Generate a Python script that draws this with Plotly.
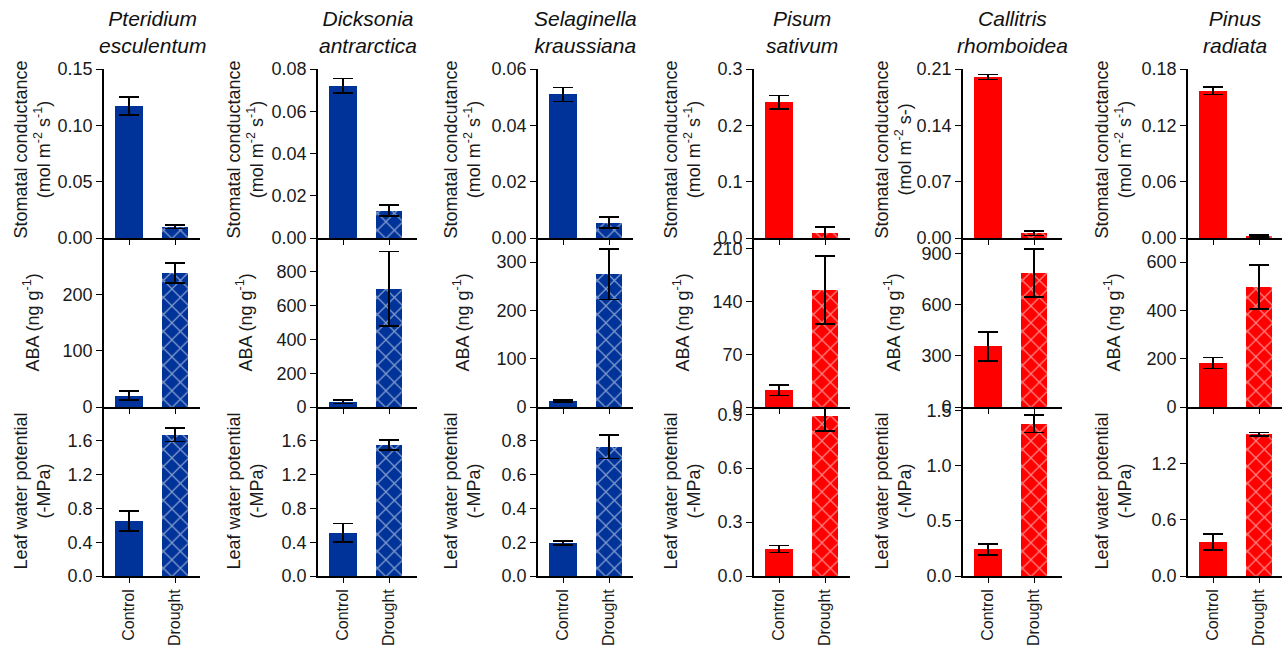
import plotly.graph_objects as go

species = ["Pteridium<br>esculentum", "Dicksonia<br>antrarctica", "Selaginella<br>kraussiana",
           "Pisum<br>sativum", "Callitris<br>rhomboidea", "Pinus<br>radiata"]
categories = ["Control", "Drought"]
colors = ["#003399", "#003399", "#003399", "#FF0000", "#FF0000", "#FF0000"]

gs_ctrl = [0.117, 0.072, 0.051, 0.241, 0.200, 0.157]
gs_ctrl_err = [0.008, 0.0035, 0.0025, 0.012, 0.003, 0.004]
gs_dr = [0.010, 0.013, 0.0055, 0.009, 0.006, 0.002]
gs_dr_err = [0.0015, 0.0025, 0.002, 0.011, 0.003, 0.001]

aba_ctrl = [20, 30, 12, 22, 355, 182]
aba_ctrl_err = [8, 10, 2, 7, 85, 23]
aba_dr = [238, 700, 275, 155, 785, 497]
aba_dr_err = [18, 220, 52, 45, 140, 90]

lwp_ctrl = [0.65, 0.51, 0.195, 0.15, 0.24, 0.36]
lwp_ctrl_err = [0.12, 0.11, 0.013, 0.02, 0.05, 0.085]
lwp_dr = [1.67, 1.55, 0.765, 0.89, 1.38, 1.51]
lwp_dr_err = [0.08, 0.06, 0.07, 0.085, 0.08, 0.02]

gs_titles = ["Stomatal conductance<br>(mol m<sup>-2</sup> s<sup>-1</sup>)",
             "Stomatal conductance<br>(mol m<sup>-2</sup> s<sup>-1</sup>)",
             "Stomatal condcutance<br>(mol m<sup>-2</sup> s<sup>-1</sup>)",
             "Stomatal conductance<br>(mol m<sup>-2</sup> s<sup>-1</sup>)",
             "Stomatal conductance<br>(mol m<sup>-2</sup> s-)",
             "Stomatal conductance<br>(mol m<sup>-2</sup> s<sup>-1</sup>)"]
aba_title = "ABA (ng g<sup>-1</sup>)"
lwp_title = "Leaf water potential<br>(-MPa)"

gs_ticks = [[0, 0.05, 0.10, 0.15], [0, 0.02, 0.04, 0.06, 0.08], [0, 0.02, 0.04, 0.06],
            [0, 0.1, 0.2, 0.3], [0, 0.07, 0.14, 0.21], [0, 0.06, 0.12, 0.18]]
gs_fmt = [".2f", ".2f", ".2f", ".1f", ".2f", ".2f"]
gs_max = [0.15, 0.08, 0.06, 0.3, 0.21, 0.18]
aba_ticks = [[0, 100, 200], [0, 200, 400, 600, 800], [0, 100, 200, 300],
             [0, 70, 140, 210], [0, 300, 600, 900], [0, 200, 400, 600]]
aba_max = [300, 1000, 350, 224, 990, 700]
lwp_ticks = [[0, 0.4, 0.8, 1.2, 1.6], [0, 0.4, 0.8, 1.2, 1.6], [0, 0.2, 0.4, 0.6, 0.8],
             [0, 0.3, 0.6, 0.9], [0, 0.5, 1.0, 1.5], [0, 0.6, 1.2]]
lwp_max = [2.0, 2.0, 1.0, 0.94, 1.53, 1.8]

# layout geometry (pixels)
W, H = 1282, 648
col_x0 = [104, 318, 538, 754, 963, 1188]
col_x1 = [200, 417, 633, 850, 1062, 1282]
title_x = [32, 245, 462, 682, 893, 1113]
row_y = [(69, 238), (238, 407), (407, 576)]
title_dy = [-4, 0, 0]

font_family = "Arial, Liberation Sans, sans-serif"
txt_color = "#1a1a1a"
fig = go.Figure()
layout = dict(width=W, height=H, margin=dict(l=0, r=0, t=0, b=0, autoexpand=False),
              paper_bgcolor="white", plot_bgcolor="white", showlegend=False,
              font=dict(family=font_family, size=18, color=txt_color), bargap=0)

annotations = []
idx = 0
for c in range(6):
    rows = [
        (gs_ctrl, gs_ctrl_err, gs_dr, gs_dr_err, gs_ticks[c], gs_fmt[c], gs_max[c], gs_titles[c]),
        (aba_ctrl, aba_ctrl_err, aba_dr, aba_dr_err, aba_ticks[c], ",.0f", aba_max[c], aba_title),
        (lwp_ctrl, lwp_ctrl_err, lwp_dr, lwp_dr_err, lwp_ticks[c], ".1f", lwp_max[c], lwp_title),
    ]
    for r, (vc, ec, vd, ed, ticks, fmt, ymax, ytitle) in enumerate(rows):
        idx += 1
        xa = "x" if idx == 1 else f"x{idx}"
        ya = "y" if idx == 1 else f"y{idx}"
        col = colors[c]
        fig.add_trace(go.Bar(
            x=[categories[0]], y=[vc[c]], xaxis=xa, yaxis=ya, width=0.62,
            marker=dict(color=col, line=dict(width=0)),
            error_y=dict(type="data", array=[ec[c]], color="black", thickness=1.6, width=10),
        ))
        fig.add_trace(go.Bar(
            x=[categories[1]], y=[vd[c]], xaxis=xa, yaxis=ya, width=0.56,
            marker=dict(color=col, line=dict(width=0),
                        pattern=dict(shape="x", fgcolor="white", bgcolor=col, size=12,
                                     solidity=0.2, fillmode="overlay")),
            error_y=dict(type="data", array=[ed[c]], color="black", thickness=1.6, width=10),
        ))
        x0, x1 = col_x0[c], col_x1[c]
        y0, y1 = row_y[r]
        spacing = 46.0
        xr0 = -25.0 / spacing
        xr1 = xr0 + (x1 - x0) / spacing
        xkey = "xaxis" if idx == 1 else f"xaxis{idx}"
        ykey = "yaxis" if idx == 1 else f"yaxis{idx}"
        layout[xkey] = dict(
            domain=[x0 / W, x1 / W], anchor=ya, type="category",
            categoryorder="array", categoryarray=categories,
            range=[xr0, xr1], showline=True, linecolor="black", linewidth=1.6,
            ticks="outside", ticklen=5, tickwidth=1.4, tickcolor="black",
            showgrid=False, zeroline=False, fixedrange=True, automargin=False,
            showticklabels=(r == 2), tickangle=-90,
            tickfont=dict(size=16, family=font_family, color=txt_color),
        )
        layout[ykey] = dict(
            domain=[1 - y1 / H, 1 - y0 / H], anchor=xa, range=[0, ymax],
            tickvals=ticks, tickformat=fmt, showline=True, linecolor="black", linewidth=1.6,
            ticks="outside", ticklen=6, tickwidth=1.4, tickcolor="black",
            showgrid=False, zeroline=False, fixedrange=True, automargin=False,
            tickfont=dict(size=18, family=font_family, color=txt_color),
        )
        annotations.append(dict(
            text=ytitle, textangle=-90,
            x=title_x[c] / W, y=1 - ((y0 + y1) / 2 + title_dy[r]) / H,
            xref="paper", yref="paper", xanchor="center", yanchor="middle",
            showarrow=False, font=dict(size=18, family=font_family, color=txt_color),
        ))
    annotations.append(dict(
        text="<i>" + species[c].replace("<br>", "</i><br><i>") + "</i>",
        x=(col_x0[c] + col_x1[c]) / 2 / W, y=1 - 59 / H, xref="paper", yref="paper",
        xanchor="center", yanchor="bottom", showarrow=False,
        font=dict(size=21, family=font_family, color="#111"),
    ))

layout["annotations"] = annotations
fig.update_layout(**layout)
fig.write_html("out.html")
